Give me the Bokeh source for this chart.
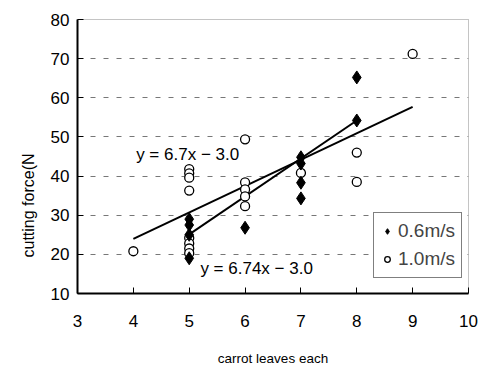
from bokeh.plotting import figure
from bokeh.models import ColumnDataSource, FixedTicker, Legend, LegendItem, Label, Range1d, Title
from bokeh.embed import file_html
from bokeh.resources import INLINE

# --- data ---
x_06 = [5, 5, 5, 5, 6, 7, 7, 7, 7, 8, 8]
y_06 = [29.0, 27.5, 25.0, 19.0, 26.8, 44.8, 43.2, 38.3, 34.3, 65.2, 54.2]
x_10 = [4, 5, 5, 5, 5, 5, 5, 5, 5, 6, 6, 6, 6, 6, 7, 8, 8, 9]
y_10 = [20.8, 41.8, 40.7, 39.6, 36.3, 24.2, 22.8, 21.5, 20.3,
        49.4, 38.4, 36.6, 34.8, 32.3, 40.8, 46.0, 38.5, 71.2]
# fitted lines: (x_start, x_end, slope, intercept)
fit_10 = [4, 9, 6.74, -3.0]
fit_06 = [5, 8, 9.7, -23.4]
eq_labels = ["y = 6.7x \u2212 3.0", "y = 6.74x \u2212 3.0"]
series_names = ["0.6m/s", "1.0m/s"]
x_ticks = [3, 4, 5, 6, 7, 8, 9, 10]
y_ticks = [10, 20, 30, 40, 50, 60, 70, 80]
x_title = "carrot leaves each"
y_title = "cutting force(N"

FONT = "Liberation Sans"

p = figure(width=482, height=368, output_backend="svg", toolbar_location=None,
           x_range=Range1d(3, 10), y_range=Range1d(10, 80),
           min_border_left=77, min_border_right=14, min_border_top=19, min_border_bottom=75)
p.background_fill_color = "white"
p.border_fill_color = "white"
p.outline_line_color = "#888888"
p.outline_line_dash = "1 1"
p.outline_line_width = 1

p.xgrid.grid_line_color = None
p.ygrid.grid_line_color = "#777777"
p.ygrid.grid_line_dash = "5 8"
p.ygrid.grid_line_width = 1

for ax in (p.xaxis[0], p.yaxis[0]):
    ax.axis_line_color = "black"
    ax.axis_line_width = 2
    ax.major_tick_line_color = "black"
    ax.major_tick_line_width = 1
    ax.major_tick_in = 6
    ax.major_tick_out = 0
    ax.minor_tick_line_color = None
    ax.major_label_text_font = FONT
    ax.major_label_text_font_size = "17px"
    ax.major_label_text_color = "black"
    ax.axis_label_text_font = FONT
    ax.axis_label_text_font_style = "normal"
    ax.axis_label_text_color = "black"

p.xaxis.ticker = FixedTicker(ticks=x_ticks)
p.yaxis.ticker = FixedTicker(ticks=y_ticks)
p.xaxis.major_label_standoff = 21
p.yaxis.major_label_standoff = 8
p.xaxis.axis_label = x_title
p.xaxis.axis_label_text_font_size = "13.5px"
p.xaxis.axis_label_standoff = 21

# y title as a side title so it can sit lower than the frame centre
yt = Title(text=y_title, align="left", offset=36, text_font=FONT,
           text_font_size="16px", text_font_style="normal", text_color="black",
           standoff=22)
p.add_layout(yt, "left")

# fit lines
for f in (fit_10, fit_06):
    xs = [f[0], f[1]]
    ys = [f[2] * v + f[3] for v in xs]
    p.line(xs, ys, line_color="black", line_width=2)

src06 = ColumnDataSource(dict(x=x_06, y=y_06))
src10 = ColumnDataSource(dict(x=x_10, y=y_10))
r10 = p.scatter("x", "y", source=src10, marker="circle", size=9,
                fill_color="white", line_color="black", line_width=1.3)
r06 = p.scatter("x", "y", source=src06, marker="diamond", size=13,
                fill_color="black", line_color="black")

p.add_layout(Label(x=4.05, y=45.5, text=eq_labels[0], text_font=FONT,
                   text_font_size="17px", text_baseline="middle", text_color="black"))
p.add_layout(Label(x=5.2, y=16.4, text=eq_labels[1], text_font=FONT,
                   text_font_size="17px", text_baseline="middle", text_color="black"))

legend = Legend(items=[LegendItem(label=series_names[0], renderers=[r06]),
                       LegendItem(label=series_names[1], renderers=[r10])],
                location=(296, 15))
legend.border_line_color = "black"
legend.border_line_width = 1.5
legend.background_fill_color = "white"
legend.background_fill_alpha = 1
legend.label_text_font = FONT
legend.label_text_font_size = "19px"
legend.glyph_width = 14
legend.glyph_height = 24
legend.label_height = 24
legend.label_standoff = 4
legend.spacing = 4
legend.padding = 6
legend.margin = 0
p.add_layout(legend)

open("out.html", "w").write(file_html(p, INLINE))
